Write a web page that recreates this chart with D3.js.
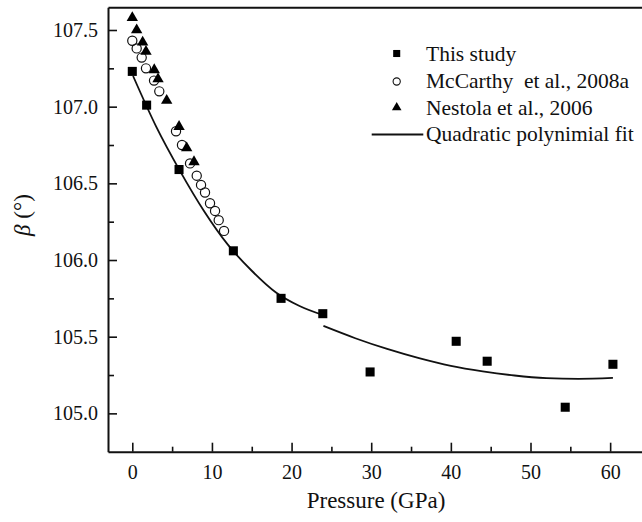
<!DOCTYPE html>
<html>
<head>
<meta charset="utf-8">
<script src="https://cdn.jsdelivr.net/npm/d3@7"></script>
<style>
  html, body { margin: 0; padding: 0; background: #fff; }
  svg { display: block; }
  svg text { font-family: "Liberation Serif", "Times New Roman", Times, "DejaVu Serif", serif; }
</style>
</head>
<body>
<svg id="chart" width="642" height="522"></svg>
<script>
// This study: pressure (GPa) and monoclinic beta angle (degrees)
const thisP    = [0.0, 1.8, 5.87, 12.69, 18.68, 23.92, 29.86, 40.67, 44.56, 54.36, 60.35];
const thisBeta = [107.23, 107.01, 106.59, 106.06, 105.75, 105.65, 105.27, 105.47, 105.34, 105.04, 105.32];

// McCarthy et al., 2008a
const mcP    = [0.0, 0.55, 1.18, 1.72, 2.73, 3.39, 5.49, 6.24, 7.25, 8.09, 8.63, 9.13, 9.76, 10.39, 10.85, 11.52];
const mcBeta = [107.43, 107.38, 107.32, 107.25, 107.17, 107.10, 106.84, 106.75, 106.63, 106.55, 106.49, 106.44, 106.37, 106.32, 106.26, 106.19];

// Nestola et al., 2006
const neP    = [0.0, 0.55, 1.3, 1.72, 2.76, 3.23, 4.32, 5.87, 6.83, 7.75];
const neBeta = [107.58, 107.50, 107.42, 107.36, 107.24, 107.18, 107.04, 106.87, 106.73, 106.64];

// Quadratic fit, low-pressure branch
const fitLowP    = [0.1, 3, 6, 9, 12, 15, 18, 21, 24];
const fitLowBeta = [107.20, 106.87, 106.58, 106.32, 106.10, 105.93, 105.79, 105.70, 105.64];

// Quadratic fit, high-pressure branch
const fitHighP    = [24, 28, 32, 36, 40, 44, 48, 52, 56, 60.35];
const fitHighBeta = [105.57, 105.49, 105.42, 105.36, 105.31, 105.274, 105.247, 105.23, 105.225, 105.231];

// Axis ticks
const xMajor = [0, 10, 20, 30, 40, 50, 60];
const xMinor = [5, 15, 25, 35, 45, 55];
const yMajor = [105.0, 105.5, 106.0, 106.5, 107.0, 107.5];
const yMinor = [105.25, 105.75, 106.25, 106.75, 107.25];

// Legend entries
const legendLabels = ["This study", "McCarthy  et al., 2008a", "Nestola et al., 2006", "Quadratic polynimial fit"];

const serif = "'Liberation Serif', 'Times New Roman', Times, 'DejaVu Serif', serif";
const svg = d3.select("#chart");

const plotLeft = 108, plotRight = 642, plotTop = 7.3, plotBottom = 451.7;
const x = d3.scaleLinear().domain([-3.05, 64.0]).range([plotLeft, plotRight]);
const y = d3.scaleLinear().domain([104.75, 107.648]).range([plotBottom, plotTop]);

const axisColor = "#111";

// Bottom axis: major and minor ticks pointing inward
const gx = svg.append("g").attr("transform", `translate(0,${plotBottom})`);
gx.call(d3.axisBottom(x).tickValues(xMajor).tickSizeInner(-9).tickSizeOuter(0).tickPadding(13).tickFormat(d3.format("d")));
gx.append("g").call(d3.axisBottom(x).tickValues(xMinor).tickSizeInner(-5).tickSizeOuter(0).tickFormat(""))
  .select(".domain").remove();

// Left axis
const gy = svg.append("g").attr("transform", `translate(${plotLeft},0)`);
gy.call(d3.axisLeft(y).tickValues(yMajor).tickSizeInner(-9).tickSizeOuter(0).tickPadding(10).tickFormat(d3.format(".1f")));
gy.append("g").call(d3.axisLeft(y).tickValues(yMinor).tickSizeInner(-6).tickSizeOuter(0).tickFormat(""))
  .select(".domain").remove();

// Top frame line
svg.append("g").attr("transform", `translate(0,${plotTop})`)
  .call(d3.axisTop(x).tickValues([]).tickSizeOuter(0));

svg.selectAll("g").attr("font-family", serif);
svg.selectAll(".domain").attr("stroke", axisColor).attr("stroke-width", 2);
svg.selectAll(".tick line").attr("stroke", axisColor).attr("stroke-width", 1.6);
svg.selectAll(".tick text").attr("fill", "#111").attr("font-size", 20).attr("font-family", serif);

// Axis titles
svg.append("text")
  .attr("x", 376).attr("y", 508)
  .attr("text-anchor", "middle")
  .attr("font-family", serif).attr("font-size", 23).attr("fill", "#111")
  .text("Pressure (GPa)");

const yt = svg.append("text")
  .attr("transform", "translate(30,215) rotate(-90)")
  .attr("text-anchor", "middle")
  .attr("font-family", serif).attr("font-size", 23).attr("fill", "#111");
yt.append("tspan").attr("font-style", "italic").text("β");
yt.append("tspan").text(" (°)");

// Fit curves
const line = d3.line().x(d => x(d[0])).y(d => y(d[1])).curve(d3.curveMonotoneX);
const lowPts = d3.zip(fitLowP, fitLowBeta);
const highPts = d3.zip(fitHighP, fitHighBeta);
[lowPts, highPts].forEach(pts => {
  svg.append("path").datum(pts).attr("d", line)
    .attr("fill", "none").attr("stroke", "#111").attr("stroke-width", 1.8);
});

// Data symbols
const sq = d3.symbol().type(d3.symbolSquare).size(82);
const tri = d3.symbol().type(d3.symbolTriangle).size(56);

svg.append("g").selectAll("circle").data(d3.zip(mcP, mcBeta)).join("circle")
  .attr("cx", d => x(d[0])).attr("cy", d => y(d[1])).attr("r", 4.6)
  .attr("fill", "none").attr("stroke", "#111").attr("stroke-width", 1.2);

svg.append("g").selectAll("path").data(d3.zip(neP, neBeta)).join("path")
  .attr("d", tri).attr("transform", d => `translate(${x(d[0])},${y(d[1])})`)
  .attr("fill", "#000");

svg.append("g").selectAll("path").data(d3.zip(thisP, thisBeta)).join("path")
  .attr("d", sq).attr("transform", d => `translate(${x(d[0])},${y(d[1])})`)
  .attr("fill", "#000");

// Legend
const lg = svg.append("g");
const baselines = [61, 88, 114.5, 141];
const mx = 396.7, tx = 426;
lg.append("path").attr("d", d3.symbol().type(d3.symbolSquare).size(50))
  .attr("transform", `translate(${mx},${baselines[0] - 7.5})`).attr("fill", "#000");
lg.append("circle").attr("cx", mx).attr("cy", baselines[1] - 6.5).attr("r", 3.6)
  .attr("fill", "none").attr("stroke", "#111").attr("stroke-width", 1.1);
lg.append("path").attr("d", d3.symbol().type(d3.symbolTriangle).size(40))
  .attr("transform", `translate(${mx},${baselines[2] - 7})`).attr("fill", "#000");
lg.append("line").attr("x1", 371.7).attr("x2", 423.3)
  .attr("y1", baselines[3] - 6.5).attr("y2", baselines[3] - 6.5)
  .attr("stroke", "#111").attr("stroke-width", 1.8);
lg.selectAll("text").data(legendLabels).join("text")
  .attr("x", tx).attr("y", (d, i) => baselines[i])
  .attr("font-family", serif).attr("font-size", 21.5).attr("fill", "#111")
  .attr("xml:space", "preserve").style("white-space", "pre")
  .text(d => d);
</script>
</body>
</html>
